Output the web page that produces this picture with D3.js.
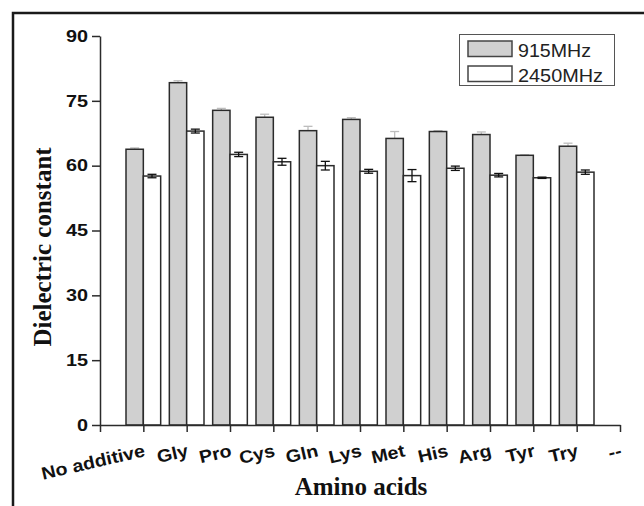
<!DOCTYPE html>
<html>
<head>
<meta charset="utf-8">
<script src="https://cdn.jsdelivr.net/npm/d3@7"></script>
<style>
  html, body { margin: 0; padding: 0; background: #fff; }
  svg { display: block; }
</style>
</head>
<body>
<svg id="chart" width="644" height="506"></svg>
<script>
// Amino acid additives and their dielectric constants at two frequencies
const categories = ["No additive", "Gly", "Pro", "Cys", "Gln", "Lys", "Met", "His", "Arg", "Tyr", "Try", "--"];
const values915  = [63.8, 79.2, 72.8, 71.2, 68.1, 70.7, 66.3, 67.9, 67.2, 62.4, 64.5];
const err915     = [0.3, 0.45, 0.45, 0.7, 1.0, 0.4, 1.6, 0.2, 0.6, 0.1, 0.7];
const values2450 = [57.6, 68.0, 62.6, 60.9, 60.0, 58.7, 57.7, 59.4, 57.8, 57.2, 58.5];
const err2450    = [0.4, 0.45, 0.5, 0.8, 1.0, 0.45, 1.4, 0.5, 0.4, 0.15, 0.5];
const yTicks     = [0, 15, 30, 45, 60, 75, 90];
const seriesNames = ["915MHz", "2450MHz"];

const svg = d3.select("#chart");
const ink = "#2b2b2b";
const grey = "#d0d0d0";

// widen a text element horizontally by factor k
function stretch(sel, k) {
  sel.each(function () {
    const len = this.getComputedTextLength();
    d3.select(this).attr("textLength", len * k).attr("lengthAdjust", "spacingAndGlyphs");
  });
}

// outer frame (top and left edges)
svg.append("path")
  .attr("d", "M13,506 L13,13 L644,13")
  .attr("fill", "none").attr("stroke", "#1a1a1a").attr("stroke-width", 2.5);

const x = d3.scaleLinear().domain([0, categories.length]).range([100, 620]);
const y = d3.scaleLinear().domain([0, 90]).range([425, 36]);
const bw = x(0.4) - x(0);

// bars
const g = svg.append("g");
values915.forEach((v, i) => {
  const cx = x(i + 1);
  // 915 MHz upper error bar (light)
  g.append("line").attr("x1", cx - bw / 2).attr("x2", cx - bw / 2)
    .attr("y1", y(v)).attr("y2", y(v + err915[i]))
    .attr("stroke", "#bdbdbd").attr("stroke-width", 1.3);
  g.append("line").attr("x1", cx - bw / 2 - 4.5).attr("x2", cx - bw / 2 + 4.5)
    .attr("y1", y(v + err915[i])).attr("y2", y(v + err915[i]))
    .attr("stroke", "#bdbdbd").attr("stroke-width", 1.3);
  g.append("rect")
    .attr("x", cx - bw).attr("y", y(v))
    .attr("width", bw).attr("height", y(0) - y(v))
    .attr("fill", grey).attr("stroke", ink).attr("stroke-width", 1.5);
});
values2450.forEach((v, i) => {
  const cx = x(i + 1);
  g.append("rect")
    .attr("x", cx).attr("y", y(v))
    .attr("width", bw).attr("height", y(0) - y(v))
    .attr("fill", "#fff").attr("stroke", ink).attr("stroke-width", 1.5);
  const ex = cx + bw / 2;
  const e = err2450[i];
  g.append("line").attr("x1", ex).attr("x2", ex)
    .attr("y1", y(v - e)).attr("y2", y(v + e))
    .attr("stroke", "#111").attr("stroke-width", 1.3);
  [v - e, v + e].forEach(t => {
    g.append("line").attr("x1", ex - 4.5).attr("x2", ex + 4.5)
      .attr("y1", y(t)).attr("y2", y(t))
      .attr("stroke", "#111").attr("stroke-width", 1.3);
  });
});

// y axis
const yAxis = svg.append("g").attr("transform", "translate(100,0)")
  .call(d3.axisLeft(y).tickValues(yTicks).tickSize(8).tickSizeOuter(0).tickPadding(4));
yAxis.selectAll("path, line").attr("stroke", ink).attr("stroke-width", 1.5);
yAxis.selectAll("text")
  .attr("font-family", "Liberation Sans, Arial, sans-serif")
  .attr("font-weight", "bold").attr("font-size", 16.5).attr("fill", "#111");
stretch(yAxis.selectAll("text"), 1.2);

// x axis
const xAxis = svg.append("g").attr("transform", "translate(0,425)")
  .call(d3.axisBottom(x).tickValues(d3.range(categories.length + 1))
    .tickSize(7).tickSizeOuter(0).tickFormat(d => d === 0 ? "" : categories[d - 1]));
xAxis.selectAll("path, line").attr("stroke", ink).attr("stroke-width", 1.5);
xAxis.selectAll("text")
  .attr("font-family", "Liberation Sans, Arial, sans-serif")
  .attr("font-weight", "bold").attr("font-size", 17.5).attr("fill", "#111")
  .attr("text-anchor", "end")
  .attr("y", 0).attr("dy", 0)
  .attr("transform", "translate(2,31) rotate(-13)");
stretch(xAxis.selectAll("text"), 1.12);

// axis titles
svg.append("text")
  .attr("transform", "translate(51,247) rotate(-90)")
  .attr("text-anchor", "middle")
  .attr("font-family", "Liberation Serif, Times New Roman, serif")
  .attr("font-weight", "bold").attr("font-size", 25).attr("fill", "#111")
  .text("Dielectric constant");
svg.append("text")
  .attr("x", 361).attr("y", 495)
  .attr("text-anchor", "middle")
  .attr("font-family", "Liberation Serif, Times New Roman, serif")
  .attr("font-weight", "bold").attr("font-size", 25).attr("fill", "#111")
  .text("Amino acids");

// legend
const lg = svg.append("g");
lg.append("rect").attr("x", 459.5).attr("y", 34.5).attr("width", 155).attr("height", 51)
  .attr("fill", "#fff").attr("stroke", "#555").attr("stroke-width", 1);
[grey, "#fff"].forEach((fill, i) => {
  lg.append("rect").attr("x", 468).attr("y", 41 + i * 25).attr("width", 44).attr("height", 15.5)
    .attr("fill", fill).attr("stroke", "#444").attr("stroke-width", 1.5);
  lg.append("text").attr("x", 518).attr("y", 56.5 + i * 25)
    .attr("font-family", "Liberation Sans, Arial, sans-serif")
    .attr("font-size", 18).attr("fill", "#222")
    .attr("textLength", i === 0 ? 73 : 85).attr("lengthAdjust", "spacingAndGlyphs")
    .text(seriesNames[i]);
});
</script>
</body>
</html>
